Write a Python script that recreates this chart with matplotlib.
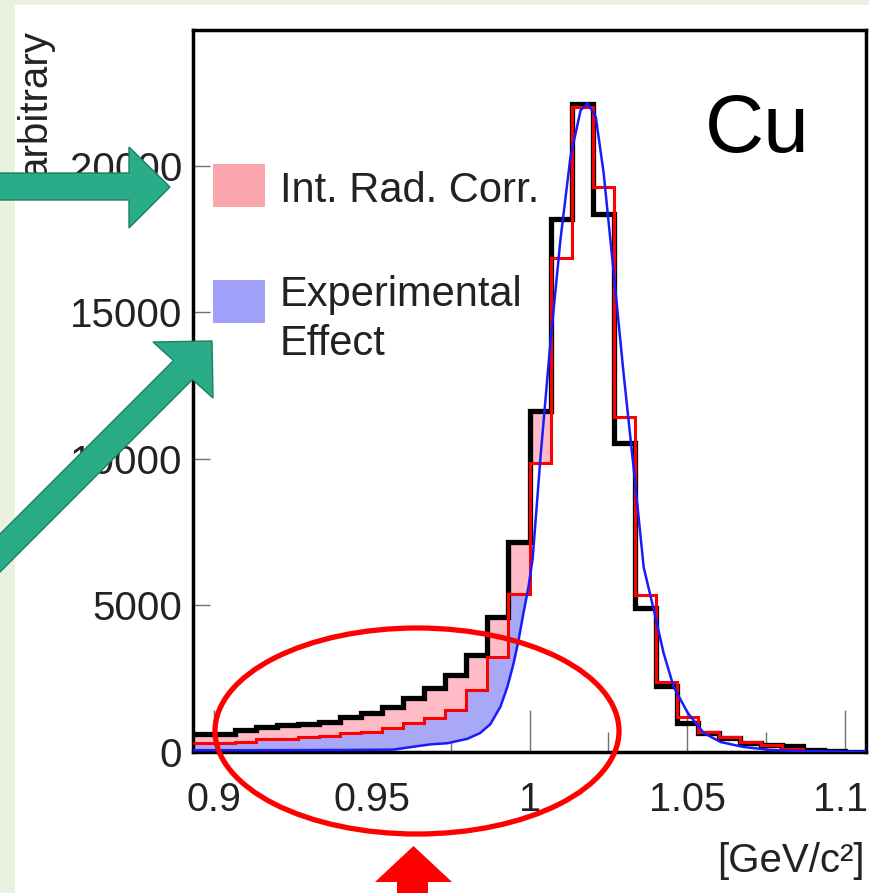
import numpy as np
import matplotlib
matplotlib.use("Agg")
import matplotlib.pyplot as plt
from matplotlib.patches import Polygon, Rectangle, Ellipse

plt.rcParams["font.family"] = ["Liberation Sans", "DejaVu Sans"]

# ---- data -------------------------------------------------------------
# invariant-mass histogram binning (GeV/c^2)
mass_lo = 0.893333
bin_width = 1.0 / 150.0
n_bins = 32

# measured spectrum (black)
measured = [600, 610, 750, 840, 910, 940, 1035, 1180, 1340, 1550, 1850,
            2180, 2630, 3310, 4620, 7150, 11650, 18200, 22100, 18350,
            10550, 4920, 2250, 1000, 640, 470, 320, 240, 200, 60, 20, 0]

# spectrum after internal radiative correction (red)
rad_corrected = [310, 320, 330, 430, 440, 520, 530, 650, 680, 810, 980,
                 1150, 1430, 2120, 3250, 5400, 9860, 16860, 22000, 19280,
                 11430, 5360, 2400, 1200, 680, 500, 350, 250, 110, 40, 10, 0]

# smooth line shape without experimental effects (blue)
shape_mass = [0.8933, 0.9114, 0.9273, 0.9432, 0.9568, 0.9632, 0.9686,
              0.9740, 0.9803, 0.9844, 0.9876, 0.9908, 0.9930, 0.9949,
              0.9965, 0.9981, 0.9997, 1.0010, 1.0035, 1.0067, 1.0098,
              1.0130, 1.0162, 1.0184, 1.0210, 1.0235, 1.0267, 1.0298,
              1.0330, 1.0362, 1.0394, 1.0425, 1.0457, 1.0502, 1.0552,
              1.0606, 1.0679, 1.0765, 1.0860, 1.1067]
shape_value = [60, 60, 65, 70, 80, 180, 260, 300, 450, 650, 950, 1550,
               2230, 3000, 3800, 4750, 5650, 6600, 10080, 14060, 17480,
               20320, 21900, 22140, 21680, 19760, 16350, 12940, 9700,
               6300, 4850, 3380, 2220, 1330, 650, 340, 170, 70, 30, 10]

x_ticks = [0.9, 0.95, 1.0, 1.05, 1.1]
x_tick_labels = ["0.9", "0.95", "1", "1.05", "1.1"]
x_minor = [0.925, 0.975, 1.025, 1.075]
y_ticks = [0, 5000, 10000, 15000, 20000]
y_tick_labels = ["0", "5000", "10000", "15000", "20000"]

legend_labels = ["Int. Rad. Corr.", "Experimental\nEffect"]

# ---- figure -----------------------------------------------------------
W, H = 869, 893
fig = plt.figure(figsize=(W / 100, H / 100), dpi=100, facecolor="#eaf1de")


def fx(px):
    return px / W


def fy(py):
    return 1 - py / H


def pts(seq):
    return [(fx(a), fy(b)) for a, b in seq]


text_color = "#222222"

# white slide panel
fig.add_artist(Rectangle((fx(15), 0), 1 - fx(15), fy(5), transform=fig.transFigure,
                         facecolor="white", edgecolor="none", zorder=-1))

ax = fig.add_axes([fx(193), fy(752), fx(866) - fx(193), fy(30) - fy(752)])
ax.set_facecolor("white")

edges = mass_lo + np.arange(n_bins + 1) * bin_width
black = np.array(measured, dtype=float)
red = np.array(rad_corrected, dtype=float)
bx = np.array(shape_mass)
by = np.array(shape_value, dtype=float)

pink_fill = "#ffbcc6"
blue_fill = "#a8a8f6"

# radiative-correction band: between measured and corrected, low-mass side
xs = np.repeat(edges, 2)[1:-1]
yb = np.repeat(black, 2)
yr = np.repeat(red, 2)
m = xs <= edges[17] + 1e-9
ax.fill_between(xs[m], yr[m], yb[m], color=pink_fill, lw=0, zorder=2)

# experimental-effect band: between corrected histogram and smooth shape
xf = np.linspace(edges[0], edges[16], 1200)
idx = np.clip(np.searchsorted(edges, xf, side="right") - 1, 0, n_bins - 1)
rf = red[idx]
bf = np.interp(xf, bx, by)
ax.fill_between(xf, bf, rf, where=rf > bf, interpolate=True,
                color=blue_fill, lw=0, zorder=2)

ax.stairs(black, edges, color="black", lw=3.8, baseline=None, zorder=3)
ax.stairs(red, edges, color="#ff0000", lw=2.2, baseline=None, zorder=4)
ax.plot(bx, by, color="#1a1aff", lw=1.8, zorder=5)

ax.set_xlim(edges[0], edges[-1])
ax.set_ylim(0, 24640)
ax.set_xticks(x_ticks)
# the last label sits at the page edge; it is drawn separately, nudged inward
ax.set_xticklabels(x_tick_labels[:-1] + [""])
ax.set_xticks(x_minor, minor=True)
ax.set_yticks(y_ticks)
ax.set_yticklabels(y_tick_labels)
ax.tick_params(axis="x", which="major", direction="in", length=30, width=1,
               color="#707070", pad=21, labelsize=28.5, labelcolor=text_color)
ax.tick_params(axis="x", which="minor", direction="in", length=14.5, width=1,
               color="#707070")
ax.tick_params(axis="y", which="major", direction="in", length=12, width=1,
               color="#707070", pad=8, labelsize=29, labelcolor=text_color)
ax.tick_params(axis="y", which="minor", left=False)
for s in ax.spines.values():
    s.set_linewidth(2.5)
    s.set_color("black")

fig.text(fx(841), fy(781), x_tick_labels[-1], fontsize=28.5, ha="center", va="top",
         color=text_color)

# legend
fig.add_artist(Rectangle((fx(213), fy(207)), fx(265) - fx(213), fy(164) - fy(207),
                         transform=fig.transFigure, facecolor="#faa6ad",
                         edgecolor="none", zorder=6))
fig.add_artist(Rectangle((fx(213), fy(323)), fx(265) - fx(213), fy(280) - fy(323),
                         transform=fig.transFigure, facecolor="#a0a0f8",
                         edgecolor="none", zorder=6))
fig.text(fx(280), fy(202), legend_labels[0], fontsize=30, ha="left", va="baseline",
         color=text_color)
exp_lines = legend_labels[1].split("\n")
fig.text(fx(280), fy(306), exp_lines[0], fontsize=30, ha="left", va="baseline",
         color=text_color)
fig.text(fx(280), fy(355), exp_lines[1], fontsize=30, ha="left", va="baseline",
         color=text_color)

fig.text(fx(757), fy(152), "Cu", fontsize=59, ha="center", va="baseline")
fig.text(fx(865), fy(872), "[GeV/c²]", fontsize=29, ha="right", va="baseline",
         color=text_color)
fig.text(fx(35), fy(30), "arbitrary", fontsize=29, rotation=90, ha="center",
         va="top", color=text_color)

# call-out arrows
green = "#2aac88"
green_edge = "#1d7f63"
fig.add_artist(Polygon(pts([(-5, 173), (129, 173), (129, 147), (170, 187),
                            (129, 228), (129, 200), (-5, 200)]),
                       closed=True, transform=fig.transFigure, facecolor=green,
                       edgecolor=green_edge, lw=1, zorder=10))
fig.add_artist(Polygon(pts([(-38.5, 572.5), (173.5, 360.5), (153, 342), (212, 341),
                            (213, 398), (192.5, 379.5), (-19.5, 591.5)]),
                       closed=True, transform=fig.transFigure, facecolor=green,
                       edgecolor=green_edge, lw=1, zorder=10))

fig.add_artist(Ellipse((fx(417), fy(731)), 404 / W, 206 / H, transform=fig.transFigure,
                       fill=False, edgecolor="#ff0000", lw=3.8, zorder=10))
fig.add_artist(Polygon(pts([(397, 900), (397, 882), (375, 882), (413.5, 846),
                            (452, 882), (428, 882), (428, 900)]),
                       closed=True, transform=fig.transFigure, facecolor="#ff0000",
                       edgecolor="none", zorder=10))

fig.savefig("out.png", dpi=100, facecolor=fig.get_facecolor())
